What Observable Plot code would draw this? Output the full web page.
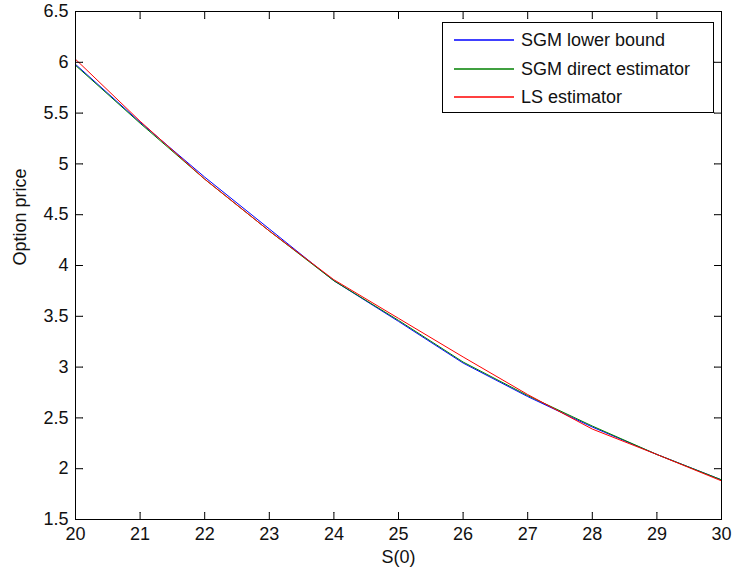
<!DOCTYPE html>
<html><head><meta charset="utf-8">
<script src="https://cdn.jsdelivr.net/npm/d3@7"></script>
<script src="https://cdn.jsdelivr.net/npm/@observablehq/plot@0.6"></script>
<style>
body{margin:0;background:#fff;}
#wrap{position:relative;width:732px;height:577px;}
.legend{position:absolute;left:442px;top:22px;width:270px;height:89px;border:1px solid #000;background:#fff;font:18px "Liberation Sans",Arial,sans-serif;color:#111;}
.row{position:absolute;left:0;height:20px;display:flex;align-items:center;}
.row svg{margin-left:11px;margin-right:7px;display:block;}
</style>
</head><body>
<div id="wrap"></div>
<script>
const S = [20,21,22,23,24,25,26,27,28,29,30];
const sgmLower  = [5.98,5.41,4.87,4.36,3.85,3.45,3.04,2.71,2.41,2.14,1.89];
const sgmDirect = [5.97,5.40,4.85,4.34,3.85,3.46,3.05,2.72,2.42,2.14,1.89];
const lsEst     = [6.03,5.42,4.85,4.34,3.86,3.48,3.10,2.73,2.39,2.14,1.88];
const seriesNames = ["SGM lower bound","SGM direct estimator","LS estimator"];
const seriesColors = ["#0000ff","#008000","#ff0000"];
const xTicks = [20,21,22,23,24,25,26,27,28,29,30];
const yTicks = [1.5,2,2.5,3,3.5,4,4.5,5,5.5,6,6.5];

const seriesValues = [sgmLower, sgmDirect, lsEst];
const rows = [];
seriesNames.forEach((name, k) => S.forEach((s, i) => rows.push({S: s, v: seriesValues[k][i], series: name})));

const tickOpts = {length: 7, r: 0, anchor: "start", stroke: "#000", strokeWidth: 1};
const chart = Plot.plot({
  width: 732, height: 577,
  marginLeft: 75, marginRight: 11, marginTop: 11, marginBottom: 58,
  style: {fontFamily: "'Liberation Sans', Arial, sans-serif", fontSize: "18px", color: "#111", background: "#fff"},
  x: {domain: [20, 30]},
  y: {domain: [1.5, 6.5]},
  color: {domain: seriesNames, range: seriesColors},
  marks: [
    Plot.axisX(xTicks, {tickSize: 0, tickPadding: 8, tickFormat: d => String(d), label: null}),
    Plot.axisY(yTicks, {tickSize: 0, tickPadding: 7, tickFormat: d => String(d), label: null}),
    Plot.text(["S(0)"], {text: d => d, frameAnchor: "bottom", dy: 43}),
    Plot.text(["Option price"], {text: d => d, frameAnchor: "left", dx: -55, rotate: -90}),
    Plot.line(rows, {x: "S", y: "v", z: "series", stroke: "series", strokeWidth: 1}),
    Plot.vector(xTicks, {x: d => d, y: 1.5, rotate: 0, ...tickOpts}),
    Plot.vector(xTicks, {x: d => d, y: 6.5, rotate: 180, ...tickOpts}),
    Plot.vector(yTicks, {x: 20, y: d => d, rotate: 90, ...tickOpts}),
    Plot.vector(yTicks, {x: 30, y: d => d, rotate: -90, ...tickOpts}),
    Plot.frame({stroke: "#000", strokeWidth: 1})
  ]
});
const wrap = document.getElementById("wrap");
wrap.appendChild(chart);
const leg = document.createElement("div");
leg.className = "legend";
const rowTops = [7, 36, 64];
const NS = "http://www.w3.org/2000/svg";
seriesNames.forEach((n, i) => {
  const r = document.createElement("div");
  r.className = "row";
  r.style.top = rowTops[i] + "px";
  const svg = document.createElementNS(NS, "svg");
  svg.setAttribute("width", "60");
  svg.setAttribute("height", "4");
  const ln = document.createElementNS(NS, "line");
  ln.setAttribute("x1", "0"); ln.setAttribute("x2", "60");
  ln.setAttribute("y1", "2"); ln.setAttribute("y2", "2");
  ln.setAttribute("stroke", seriesColors[i]);
  ln.setAttribute("stroke-width", "1.3");
  svg.appendChild(ln);
  const t = document.createElement("span");
  t.textContent = n;
  r.appendChild(svg);
  r.appendChild(t);
  leg.appendChild(r);
});
wrap.appendChild(leg);
</script>
</body></html>
